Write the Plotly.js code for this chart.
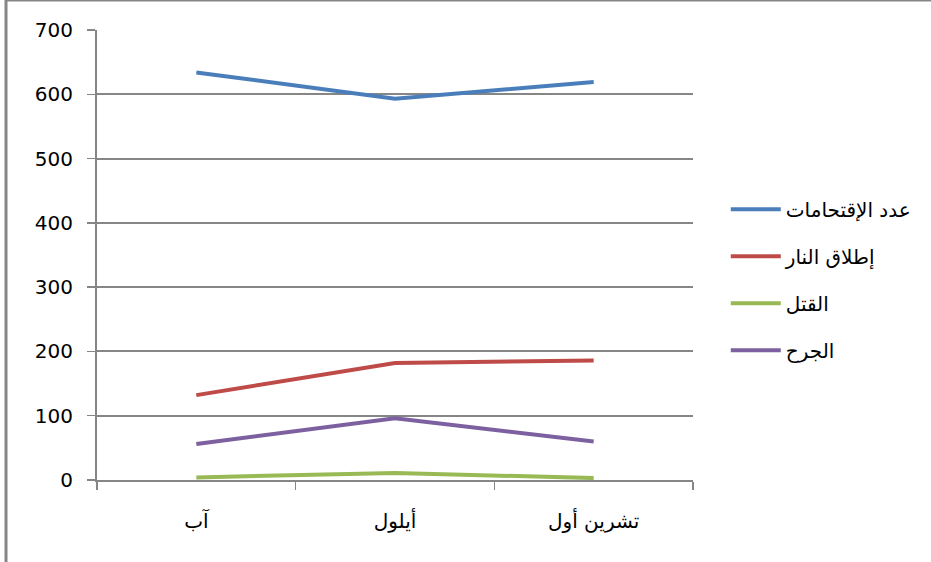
<!DOCTYPE html>
<html>
<head>
<meta charset="utf-8">
<script src="https://cdn.plot.ly/plotly-3.0.1.min.js"></script>
<style>html,body{margin:0;padding:0;background:#fff;}#chart{width:931px;height:562px;}</style>
</head>
<body>
<div id="chart"></div>
<script>
const categories = ["آب", "أيلول", "تشرين أول"];
const seriesNames = ["عدد الإقتحامات", "إطلاق النار", "القتل", "الجرح"];
const raids = [634, 593, 619];
const shooting = [132, 182, 186];
const killing = [4, 11, 3];
const injuries = [56, 96, 60];
const yTicks = [0, 100, 200, 300, 400, 500, 600, 700];

const seriesValues = [raids, shooting, killing, injuries];
const colors = ["#4A7EBB", "#BE4B48", "#98B954", "#7D60A0"];

const traces = seriesValues.map((vals, i) => ({
  type: "scatter",
  mode: "lines",
  x: categories,
  y: vals,
  name: seriesNames[i],
  legendgroup: "g" + i,
  line: {color: colors[i], width: 4}
}));

const layout = {
  width: 931,
  height: 562,
  margin: {l: 97, r: 238, t: 30, b: 82},
  paper_bgcolor: "#fff",
  plot_bgcolor: "#fff",
  font: {family: "DejaVu Sans, sans-serif", color: "#000"},
  showlegend: true,
  legend: {
    x: 1.055, y: 0.645, xanchor: "left", yanchor: "top",
    font: {size: 20, family: "DejaVu Sans, sans-serif", color: "#000"},
    traceorder: "grouped",
    tracegroupgap: 18,
    itemwidth: 50,
    bgcolor: "rgba(0,0,0,0)"
  },
  xaxis: {
    type: "category",
    range: [-0.5, 2.5],
    showgrid: false,
    showline: true,
    linecolor: "#868686",
    linewidth: 2,
    ticks: "outside",
    tickson: "boundaries",
    ticklen: 8,
    tickcolor: "#868686",
    tickwidth: 1.5,
    tickfont: {size: 20, family: "DejaVu Sans, sans-serif", color: "#000"},
    ticklabelstandoff: 22,
    fixedrange: true
  },
  yaxis: {
    range: [0, 700],
    tickvals: yTicks,
    showgrid: true,
    gridcolor: "#868686",
    gridwidth: 2,
    zeroline: false,
    showline: true,
    linecolor: "#868686",
    linewidth: 2,
    ticks: "outside",
    ticklen: 8,
    tickcolor: "#868686",
    tickwidth: 1.5,
    tickfont: {size: 20, family: "DejaVu Sans, sans-serif", color: "#000"},
    ticklabelstandoff: 10,
    fixedrange: true
  },
  shapes: [{
    type: "rect", xref: "paper", yref: "paper",
    x0: (6 - 97) / 596, x1: (940 - 97) / 596,
    y0: (482 - 570) / 450, y1: (482 - 2) / 450,
    line: {color: "#868686", width: 3},
    fillcolor: "rgba(0,0,0,0)", layer: "below"
  }]
};

Plotly.newPlot("chart", traces, layout, {displayModeBar: false, staticPlot: true});
</script>
</body>
</html>
